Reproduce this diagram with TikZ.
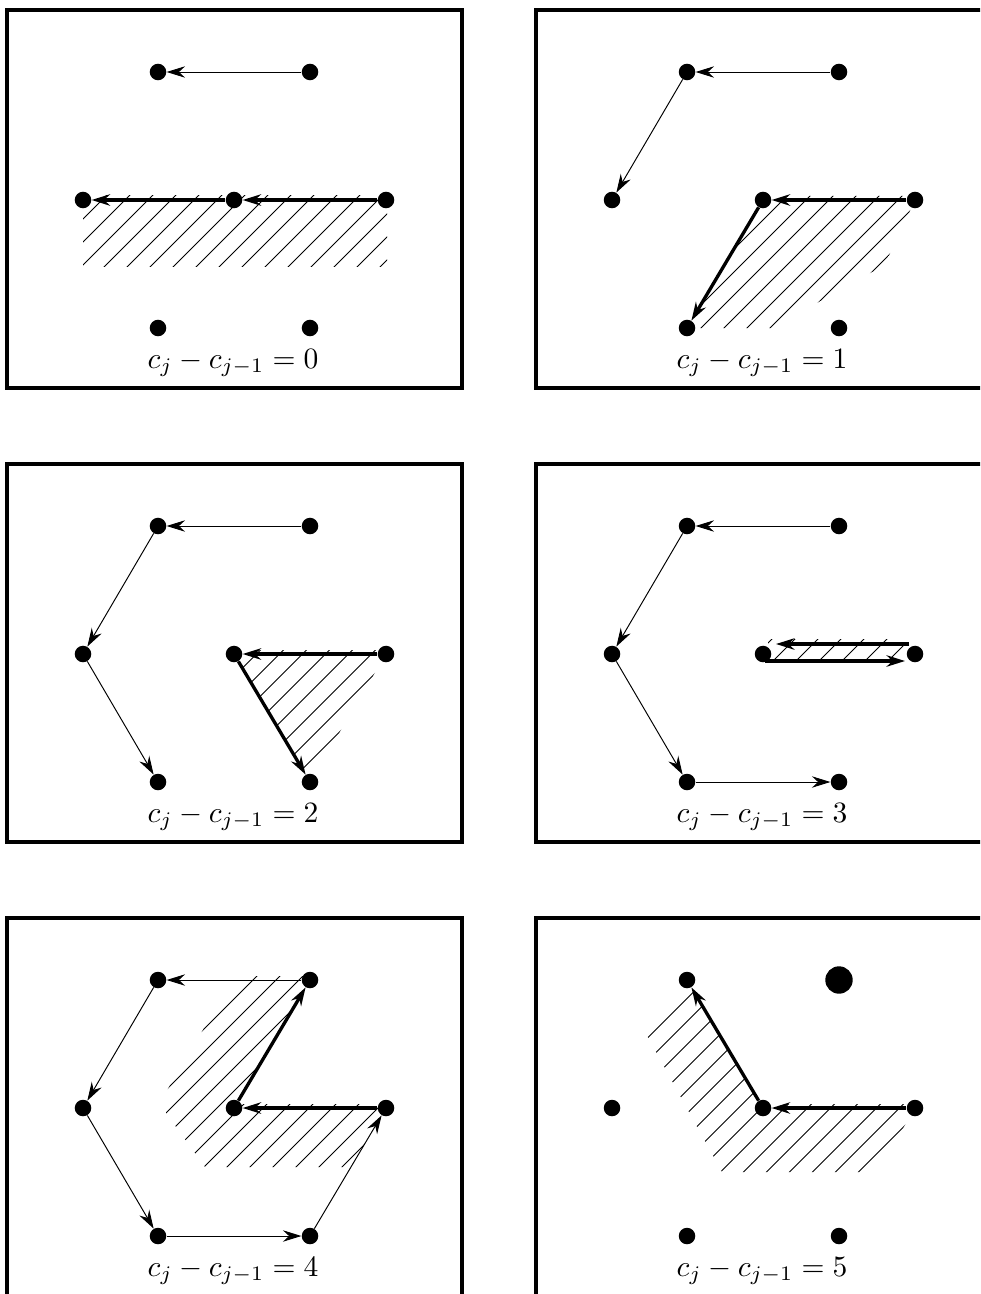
\documentclass[tikz,border=0pt]{standalone}
\usetikzlibrary{arrows.meta}
\tikzset{
  dot/.style={circle, fill=black, inner sep=0pt, minimum size=9.4pt},
  bigdot/.style={circle, fill=black, inner sep=0pt, minimum size=15.6pt},
  >={Stealth[length=10.5pt,width=6.5pt,inset=3.5pt]},
  thinarrow/.style={line width=0.55pt, ->},
  thickarrow/.style={line width=1.9pt, ->},
  frame/.style={line width=1.8pt},
  hatchline/.style={line width=0.5pt},
  lbl/.style={anchor=base, scale=1.68, inner sep=0pt},
}
\newcommand\hexnodes[1]{%
  \node[#1] (A) at (310,72) {};
  \node[dot] (B) at (158,72) {};
  \node[dot] (C) at (83,200) {};
  \node[dot] (D) at (158,328) {};
  \node[dot] (E) at (310,328) {};
  \node[dot] (F) at (386,200) {};
  \node[dot] (O) at (234,200) {};
}
\newcommand\hatchfill[2]{%
  \begin{scope}
    \clip #2 -- cycle;
    \foreach \k in {0,...,40}{%
      \pgfmathsetmacro\hc{#1+23*\k}%
      \draw[hatchline] (\hc,0) -- ({\hc-460},460);}
  \end{scope}}
\begin{document}
\begin{tikzpicture}[x=0.02cm, y=-0.02cm]
\useasboundingbox (0,0) rectangle (980,1294);
\clip (0,0) rectangle (980,1294);

% ---------- panel 0
\begin{scope}[name prefix=p1-]
  \draw[frame] (7,10) rectangle (462,388);
  \hexnodes{dot}
  \hatchfill{3}{(83,196) -- (387,196) -- (387,266) -- (83,266)}
  \draw[thinarrow] (A) -- (B);
  \draw[thickarrow] (F) -- (O);
  \draw[thickarrow] (O) -- (C);
  \node[lbl] (L) at (233,368) {$c_j - c_{j-1} = 0$};
\end{scope}

% ---------- panel 1
\begin{scope}[shift={(529,0)}, name prefix=p2-]
  \draw[frame] (7,10) rectangle (462,388);
  \hexnodes{dot}
  \hatchfill{17}{(236.4,196) -- (388,196) -- (386,200) -- (355.5,265) -- (243.5,328) -- (158,328)}
  \draw[thinarrow] (A) -- (B);
  \draw[thinarrow] (B) -- (C);
  \draw[thickarrow] (F) -- (O);
  \draw[thickarrow] (O) -- (D);
  \node[lbl] (L) at (233,368) {$c_j - c_{j-1} = 1$};
\end{scope}

% ---------- panel 2
\begin{scope}[shift={(0,454)}, name prefix=p3-]
  \draw[frame] (7,10) rectangle (462,388);
  \hexnodes{dot}
  \hatchfill{19.5}{(231.6,196) -- (388,196) -- (386,200) -- (310,328)}
  \draw[thinarrow] (A) -- (B);
  \draw[thinarrow] (B) -- (C);
  \draw[thinarrow] (C) -- (D);
  \draw[thickarrow] (F) -- (O);
  \draw[thickarrow] (O) -- (E);
  \node[lbl] (L) at (233,368) {$c_j - c_{j-1} = 2$};
\end{scope}

% ---------- panel 3
\begin{scope}[shift={(529,454)}, name prefix=p4-]
  \draw[frame] (7,10) rectangle (462,388);
  \hexnodes{dot}
  \hatchfill{14}{(239,185) -- (377,185) -- (377,207) -- (239,207)}
  \coordinate (Ft) at (380,190);
  \coordinate (Ot) at (247,190);
  \coordinate (Ob) at (236,207);
  \coordinate (Fb) at (376,207);
  \draw[thinarrow] (A) -- (B);
  \draw[thinarrow] (B) -- (C);
  \draw[thinarrow] (C) -- (D);
  \draw[thinarrow] (D) -- (E);
  \draw[thickarrow] (Ft) -- (Ot);
  \draw[thickarrow] (Ob) -- (Fb);
  \node[lbl] (L) at (233,368) {$c_j - c_{j-1} = 3$};
\end{scope}

% ---------- panel 4
\begin{scope}[shift={(0,908)}, name prefix=p5-]
  \draw[frame] (7,10) rectangle (462,388);
  \hexnodes{dot}
  \hatchfill{3}{(235,68) -- (312.4,68) -- (236.4,196) -- (388,196) -- (386,200) -- (351,259) -- (205,259) -- (166,205) -- (166,184)}
  \draw[thinarrow] (A) -- (B);
  \draw[thinarrow] (B) -- (C);
  \draw[thinarrow] (C) -- (D);
  \draw[thinarrow] (D) -- (E);
  \draw[thinarrow] (E) -- (F);
  \draw[thickarrow] (F) -- (O);
  \draw[thickarrow] (O) -- (A);
  \node[lbl] (L) at (233,368) {$c_j - c_{j-1} = 4$};
\end{scope}

% ---------- panel 5
\begin{scope}[shift={(529,908)}, name prefix=p6-]
  \draw[frame] (7,10) rectangle (462,388);
  \hexnodes{bigdot}
  \hatchfill{18.5}{(116,124) -- (158,72) -- (234,200) -- (234,196) -- (388,196) -- (386,200) -- (348,264) -- (193,264)}
  \draw[thickarrow] (F) -- (O);
  \draw[thickarrow] (O) -- (B);
  \node[lbl] (L) at (233,368) {$c_j - c_{j-1} = 5$};
\end{scope}
\end{tikzpicture}
\end{document}
